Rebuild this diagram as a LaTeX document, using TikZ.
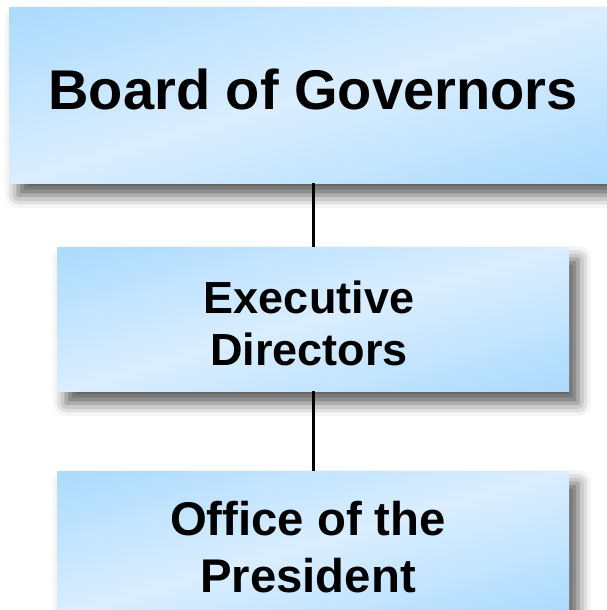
\documentclass[tikz,border=0pt]{standalone}
\usepackage{fontspec}
\setmainfont{Liberation Sans}
\usetikzlibrary{shadows.blur}
\definecolor{bdark}{RGB}{158,213,254}
\definecolor{blight}{RGB}{218,238,255}
\pgfdeclareverticalshading{boxgrad}{100bp}{color(0bp)=(bdark); color(11bp)=(bdark); color(50bp)=(blight); color(89bp)=(bdark); color(100bp)=(bdark)}
\begin{document}
\begin{tikzpicture}[x=1pt,y=-1pt,
  box/.style={rectangle, draw=none, inner sep=0pt, anchor=north west,
    shading=boxgrad, shading angle=16,
    blur shadow={shadow xshift=9pt, shadow yshift=-12pt, shadow blur radius=13pt, shadow opacity=65}},
  lbl/.style={align=center, anchor=base, inner sep=0pt},
  conn/.style={line width=3pt, black}]
\useasboundingbox (0,0) rectangle (607,610);
\node[box, minimum width=608pt, minimum height=176pt] (b1) at (9,7) {};
\node[box, minimum width=512pt, minimum height=144pt] (b2) at (57,247) {};
\node[box, minimum width=512pt, minimum height=144pt] (b3) at (57,471) {};
\draw[conn] (b1.south) -- (b2.north);
\draw[conn] (b2.south) -- (b3.north);
\node[lbl, font=\fontsize{56}{60}\selectfont\bfseries] (t1) at (313,109) {Board of Governors};
\node[lbl, font=\fontsize{45}{52}\selectfont\bfseries] (t2) at (309,365) {Executive\\Directors};
\node[lbl, font=\fontsize{47.3}{56.7}\selectfont\bfseries] (t3) at (308,592) {Office of the\\President};
\end{tikzpicture}
\end{document}
